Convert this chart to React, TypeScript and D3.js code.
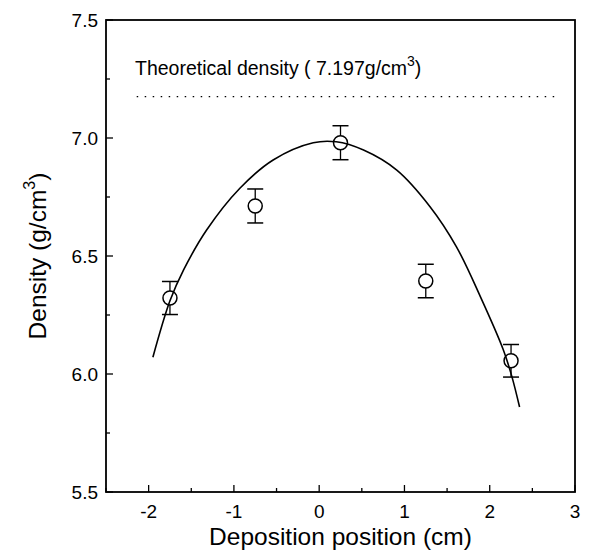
import * as d3 from 'd3';
import React, { useRef, useEffect } from 'react';

// measured points
const positions = [-1.75, -0.75, 0.25, 1.25, 2.25];
const densities = [6.322, 6.712, 6.98, 6.394, 6.056];
const errors = [0.07, 0.072, 0.072, 0.071, 0.069];

// fitted curve
const fitX = [-1.95, -1.75, -1.59, -1.32, -0.93, -0.54, -0.07, 0.2, 0.52, 0.91, 1.3, 1.61, 1.89, 2.16, 2.26, 2.35];
const fitY = [6.071, 6.31, 6.441, 6.61, 6.787, 6.907, 6.98, 6.984, 6.949, 6.864, 6.709, 6.539, 6.328, 6.102, 5.989, 5.86];

const theoryLevel = 7.175;
const theoryRange = [-2.14, 2.77];

const xTicks = [-2, -1, 0, 1, 2, 3];
const yTicks = [5.5, 6.0, 6.5, 7.0, 7.5];

const width = 589;
const height = 558;
const margin = { top: 20, right: 14, bottom: 66, left: 106 };
const font = 'Liberation Sans, Arial, sans-serif';

function App() {
  const ref = useRef<SVGSVGElement>(null);

  useEffect(() => {
    draw();
  }, []);

  const draw = () => {
    const svg = d3.select(ref.current);
    svg.selectAll('*').remove();

    const innerW = width - margin.left - margin.right;
    const innerH = height - margin.top - margin.bottom;

    const x = d3.scaleLinear().domain([-2.5, 3]).range([0, innerW]);
    const y = d3.scaleLinear().domain([5.5, 7.5]).range([innerH, 0]);

    const chart = svg.append('g')
      .attr('transform', `translate(${margin.left}, ${margin.top})`);

    // minor + major ticks, pointing inward
    const xMinor = d3.range(-2.5, 3.01, 0.5).filter((v) => Math.abs(v - Math.round(v)) > 0.01);
    const yMinor = d3.range(5.75, 7.5, 0.5);

    chart.append('g').selectAll('line').data(xMinor).enter().append('line')
      .attr('x1', (d) => x(d)).attr('x2', (d) => x(d))
      .attr('y1', innerH).attr('y2', innerH - 4)
      .attr('stroke', '#000').attr('stroke-width', 1.3);
    chart.append('g').selectAll('line').data(xTicks).enter().append('line')
      .attr('x1', (d) => x(d)).attr('x2', (d) => x(d))
      .attr('y1', innerH).attr('y2', innerH - 7)
      .attr('stroke', '#000').attr('stroke-width', 1.3);
    chart.append('g').selectAll('line').data(yMinor).enter().append('line')
      .attr('x1', 0).attr('x2', 4)
      .attr('y1', (d) => y(d)).attr('y2', (d) => y(d))
      .attr('stroke', '#000').attr('stroke-width', 1.3);
    chart.append('g').selectAll('line').data(yTicks).enter().append('line')
      .attr('x1', 0).attr('x2', 7)
      .attr('y1', (d) => y(d)).attr('y2', (d) => y(d))
      .attr('stroke', '#000').attr('stroke-width', 1.3);

    // tick labels
    chart.append('g').selectAll('text').data(xTicks).enter().append('text')
      .attr('x', (d) => x(d)).attr('y', innerH + 26)
      .attr('text-anchor', 'middle')
      .attr('font-family', font)
      .attr('font-size', 19)
      .text((d) => String(d));
    chart.append('g').selectAll('text').data(yTicks).enter().append('text')
      .attr('x', -8).attr('y', (d) => y(d) + 7)
      .attr('text-anchor', 'end')
      .attr('font-family', font)
      .attr('font-size', 19)
      .text((d) => d.toFixed(1));

    // frame
    chart.append('rect')
      .attr('x', 0).attr('y', 0).attr('width', innerW).attr('height', innerH)
      .attr('fill', 'none').attr('stroke', '#000').attr('stroke-width', 1.8);

    // theoretical density
    chart.append('line')
      .attr('x1', x(theoryRange[0])).attr('x2', x(theoryRange[1]))
      .attr('y1', y(theoryLevel)).attr('y2', y(theoryLevel))
      .attr('stroke', '#000').attr('stroke-width', 1.3)
      .attr('stroke-dasharray', '1.5,6.5');

    const note = chart.append('text')
      .attr('x', 29).attr('y', 55)
      .attr('font-family', font)
      .attr('font-size', 19.5);
    note.append('tspan').text('Theoretical density ( 7.197g/cm');
    note.append('tspan').attr('dy', -9).attr('font-size', 14).text('3');
    note.append('tspan').attr('dy', 9).text(')');

    // fit curve
    const fit = fitX.map((v, i) => [v, fitY[i]] as [number, number]);
    chart.append('path')
      .datum(fit)
      .attr('fill', 'none').attr('stroke', '#000').attr('stroke-width', 1.6)
      .attr('d', d3.line<[number, number]>()
        .x((d) => x(d[0])).y((d) => y(d[1]))
        .curve(d3.curveCatmullRom));

    // error bars
    const pts = positions.map((p, i) => ({ p, v: densities[i], e: errors[i] }));
    const bars = chart.append('g').selectAll('g').data(pts).enter().append('g');
    bars.append('line')
      .attr('x1', (d) => x(d.p)).attr('x2', (d) => x(d.p))
      .attr('y1', (d) => y(d.v + d.e)).attr('y2', (d) => y(d.v + 0.03))
      .attr('stroke', '#000').attr('stroke-width', 1.3);
    bars.append('line')
      .attr('x1', (d) => x(d.p)).attr('x2', (d) => x(d.p))
      .attr('y1', (d) => y(d.v - 0.03)).attr('y2', (d) => y(d.v - d.e))
      .attr('stroke', '#000').attr('stroke-width', 1.3);
    bars.append('line')
      .attr('x1', (d) => x(d.p) - 8).attr('x2', (d) => x(d.p) + 8)
      .attr('y1', (d) => y(d.v + d.e)).attr('y2', (d) => y(d.v + d.e))
      .attr('stroke', '#000').attr('stroke-width', 1.5);
    bars.append('line')
      .attr('x1', (d) => x(d.p) - 8).attr('x2', (d) => x(d.p) + 8)
      .attr('y1', (d) => y(d.v - d.e)).attr('y2', (d) => y(d.v - d.e))
      .attr('stroke', '#000').attr('stroke-width', 1.5);
    bars.append('circle')
      .attr('cx', (d) => x(d.p)).attr('cy', (d) => y(d.v)).attr('r', 7)
      .attr('fill', 'none').attr('stroke', '#000').attr('stroke-width', 1.5);

    // axis titles
    svg.append('text')
      .attr('x', margin.left + innerW / 2).attr('y', height - 13)
      .attr('text-anchor', 'middle')
      .attr('font-family', font)
      .attr('font-size', 24.5)
      .text('Deposition position (cm)');

    const yt = svg.append('text')
      .attr('transform', `translate(46, ${margin.top + y(6.5)}) rotate(-90)`)
      .attr('text-anchor', 'middle')
      .attr('font-family', font)
      .attr('font-size', 24.5);
    yt.append('tspan').text('Density (g/cm');
    yt.append('tspan').attr('dy', -11).attr('font-size', 16).text('3');
    yt.append('tspan').attr('dy', 11).text(')');
  };

  return (
    <div style={{ margin: -8 }}>
      <svg ref={ref} width={width} height={height} style={{ display: 'block', background: '#fff' }}></svg>
    </div>
  );
}

export default App;
